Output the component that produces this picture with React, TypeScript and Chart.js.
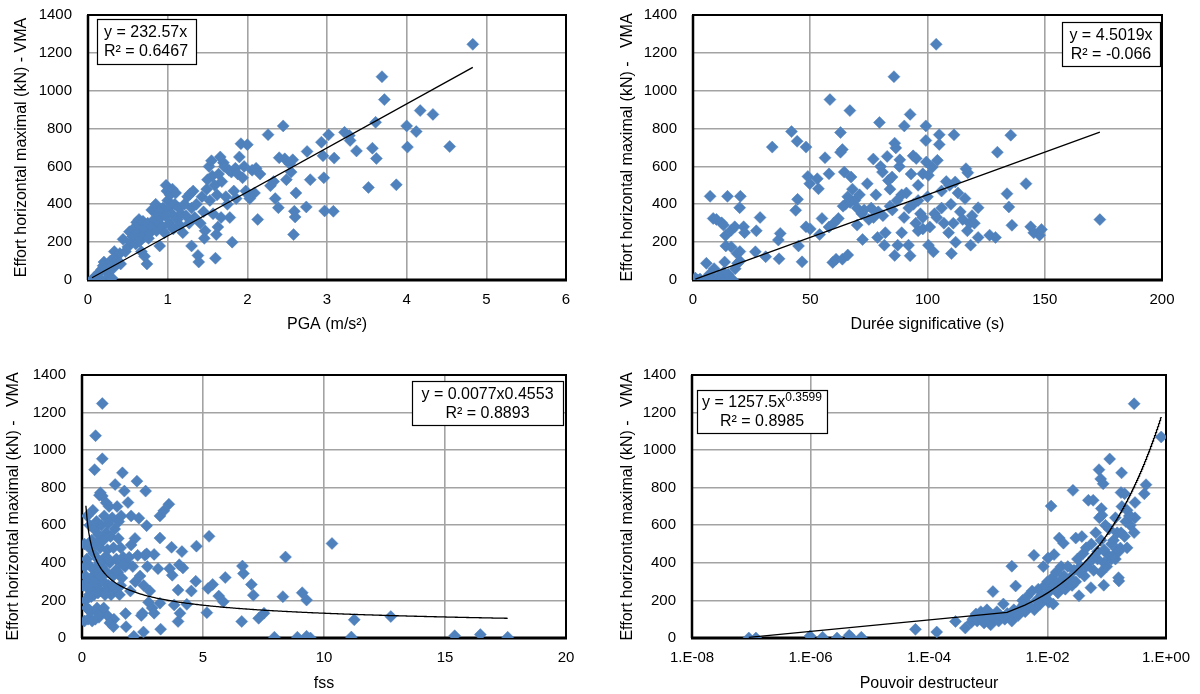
import React, { useEffect, useRef } from 'react';
import { Chart, registerables } from 'chart.js';

Chart.register(...registerables);

const FONT = "'Liberation Sans', Arial, Helvetica, sans-serif";
const BLUE = '#4F81BD';
const GRID = '#a3a3a3';

const Y_TICKS = [0, 200, 400, 600, 800, 1000, 1200, 1400];
const PGA_TICKS = [0, 1, 2, 3, 4, 5, 6];
const DUREE_TICKS = [0, 50, 100, 150, 200];
const FSS_TICKS = [0, 5, 10, 15, 20];
const PD_TICKS = [1e-8, 1e-6, 1e-4, 1e-2, 1];
const PD_TICK_LABELS = ['1.E-08', '1.E-06', '1.E-04', '1.E-02', '1.E+00'];

const Y_TITLE_A = 'Effort horizontal maximal (kN) - VMA';
const Y_TITLE_B = 'Effort horizontal maximal (kN) -   VMA';

type Pt = [number, number];

// PGA (m/s²) vs effort (kN)
const pgaPoints: Pt[] = [
  [0.05, 0], [0.07, 5], [0.08, 15], [0.1, 0], [0.11, 25], [0.13, 10], [0.14, 40], [0.16, 0], [0.17, 55], [0.19, 75],
  [0.2, 95], [0.22, 65], [0.24, 40], [0.26, 20], [0.28, 100], [0.3, 10], [0.31, 60], [0.33, 150], [0.35, 125], [0.37, 105],
  [0.4, 140], [0.41, 85], [0.38, 90], [0.44, 215],
  [0.47, 150], [0.5, 175], [0.52, 255], [0.54, 200], [0.56, 230], [0.58, 275], [0.6, 190], [0.61, 305], [0.62, 250], [0.64, 320],
  [0.65, 205], [0.66, 280], [0.67, 150], [0.69, 310], [0.7, 240], [0.71, 125], [0.72, 270], [0.74, 85], [0.75, 300], [0.76, 220],
  [0.78, 250], [0.8, 370], [0.81, 290], [0.83, 320], [0.85, 400], [0.86, 260], [0.87, 350], [0.89, 300], [0.9, 180], [0.91, 330],
  [0.93, 280], [0.94, 380], [0.96, 250], [0.97, 340], [0.98, 500], [0.99, 470], [1.0, 420],
  [1.01, 380], [1.02, 300], [1.03, 450], [1.05, 350], [1.06, 480], [1.07, 270], [1.09, 400], [1.1, 460], [1.12, 320], [1.14, 380],
  [1.15, 290], [1.17, 350], [1.19, 250], [1.21, 400], [1.23, 340], [1.25, 440], [1.27, 300], [1.28, 455], [1.3, 380], [1.3, 180],
  [1.32, 470], [1.34, 330], [1.36, 400], [1.38, 130], [1.39, 95], [1.41, 300], [1.43, 440], [1.45, 360], [1.46, 220], [1.47, 260],
  [1.49, 480], [1.5, 530], [1.52, 600], [1.53, 420], [1.55, 630], [1.56, 550], [1.57, 350], [1.59, 500], [1.6, 115], [1.61, 240],
  [1.62, 450], [1.63, 280], [1.64, 560], [1.66, 650], [1.67, 330], [1.68, 520], [1.7, 620], [1.71, 600], [1.73, 440], [1.75, 400],
  [1.77, 580], [1.78, 330], [1.8, 570], [1.81, 200], [1.83, 470], [1.85, 590], [1.86, 430], [1.88, 560], [1.9, 650], [1.92, 720],
  [1.94, 540], [1.96, 600], [1.98, 470], [2.0, 715], [2.01, 450], [2.03, 430], [2.06, 580], [2.09, 460], [2.11, 590], [2.13, 320],
  [2.16, 560],
  [2.26, 768], [2.29, 498], [2.33, 520], [2.35, 430], [2.39, 382], [2.4, 646], [2.45, 814], [2.47, 640], [2.49, 530], [2.53, 614],
  [2.55, 570], [2.57, 635], [2.59, 363], [2.6, 333], [2.58, 240], [2.61, 460], [2.74, 386], [2.75, 679], [2.79, 530], [2.93, 728],
  [2.95, 656], [2.96, 540], [2.97, 365], [3.02, 767], [3.08, 363], [3.09, 644], [3.22, 780], [3.28, 763], [3.29, 737], [3.37, 682],
  [3.52, 489], [3.57, 696], [3.61, 833], [3.62, 642], [3.69, 1074], [3.72, 953], [3.87, 503], [4.0, 814], [4.01, 702], [4.12, 784],
  [4.17, 895], [4.33, 875], [4.54, 705], [4.83, 1245],
];

// Durée significative (s) vs effort (kN)
const dureePoints: Pt[] = [
  [1, 10], [2, 0], [3, 5], [5, 0], [5.7, 88], [7, 30], [8, 0], [9, 60], [10, 0], [11, 20], [12, 5], [13, 40], [13.5, 95],
  [14, 0], [15, 30], [16, 10], [17, 0], [18, 60], [19, 88], [20, 100],
  [7.3, 442], [14.7, 442], [20.2, 442], [8.6, 325], [10, 320], [12.2, 302], [13, 290], [13.9, 235], [14, 180], [16.3, 263],
  [17.8, 281], [16.3, 175], [18.8, 140], [19.9, 382], [20, 150], [21.6, 281], [22, 250], [26.6, 149], [27, 260], [28.6, 330],
  [31, 123], [33.8, 702], [36.4, 211], [36.7, 112], [37.2, 246], [42, 784], [43.8, 368], [44.4, 733], [44.6, 426], [45, 180],
  [46.5, 96], [48.2, 702], [48.2, 281], [49, 547], [49.8, 509], [50, 270], [53, 535], [53.5, 482], [54, 240], [55, 325],
  [56.3, 646], [58.4, 953], [58, 561], [58, 280], [59.6, 93], [61, 110], [62, 325], [62.9, 779], [62.9, 675], [63.7, 689],
  [63.7, 110], [64.5, 570], [65, 400], [66, 132], [66, 440], [66.9, 895], [67.4, 544], [68, 480], [69, 420], [70, 380],
  [70, 290], [71, 450], [72.3, 214], [72, 350], [74.3, 509], [75, 320], [76, 380], [76.9, 639], [78, 450], [78.7, 225],
  [79.5, 832], [80, 600], [80.8, 570], [81, 340], [81.6, 184], [82, 250], [82.8, 653], [83.3, 526], [84, 480], [84.9, 544],
  [85, 370], [85.7, 1074], [86, 723], [86.5, 698], [86, 130], [87.3, 184], [88, 600], [88.2, 635], [89, 450], [89, 250],
  [90, 330], [90.1, 814], [91, 460], [91.9, 184], [92.6, 875], [92.6, 128], [93, 560], [93.9, 656], [94, 400], [95, 300],
  [95.2, 642], [96, 260], [96, 500], [97, 350], [98, 561], [98, 270], [99.3, 814], [99.3, 737], [99.5, 623], [100, 440],
  [100.4, 553], [100.4, 184], [101, 280], [102, 596], [102.5, 149], [103, 350], [103.7, 1245], [104.2, 632], [105, 768], [105, 716],
  [106, 470], [107, 300], [108, 520], [109, 250], [109.4, 500], [110, 400], [110.2, 140], [111, 300], [111.3, 767], [111.8, 518],
  [112, 200], [113, 460], [114, 360], [115, 320], [116, 430], [116.4, 588], [117.2, 567], [117, 260], [118, 300], [118.4, 184],
  [119, 340], [120, 300], [121.6, 382], [121.6, 225], [126.5, 237], [129, 225], [129.8, 675], [133.9, 456], [134.7, 386], [135.5, 765],
  [136, 289], [142, 509], [144, 281], [145.3, 249], [147.8, 237], [148.6, 267], [173.5, 319],
  [60, 300], [64, 390], [67, 410], [73, 370], [77, 330], [79, 360], [84, 390], [87, 420], [92, 380], [96, 420], [98, 330], [104, 330], [106, 380],
];

// fss vs effort (kN)
const fssPoints: Pt[] = [
  [0.05, 280], [0.1, 500], [0.1, 90], [0.15, 330], [0.15, 200], [0.2, 420], [0.2, 160], [0.22, 650], [0.25, 300], [0.25, 100],
  [0.3, 480], [0.3, 230], [0.32, 600], [0.35, 380], [0.35, 140], [0.4, 520], [0.4, 270], [0.42, 90], [0.45, 680], [0.45, 330],
  [0.48, 450], [0.5, 580], [0.5, 230], [0.52, 896], [0.55, 370], [0.56, 1077], [0.58, 500], [0.6, 280], [0.6, 620], [0.62, 160],
  [0.65, 420], [0.68, 550], [0.7, 320], [0.7, 110], [0.72, 760], [0.75, 480], [0.76, 773], [0.78, 250], [0.8, 600], [0.82, 380],
  [0.84, 1248], [0.84, 954], [0.84, 756], [0.85, 150], [0.88, 520], [0.9, 300], [0.92, 650], [0.95, 430], [0.98, 250], [1.0, 560],
  [1.0, 720], [1.02, 350], [1.05, 120], [1.05, 470], [1.08, 610], [1.1, 280], [1.12, 700], [1.15, 400], [1.18, 540], [1.2, 230],
  [1.22, 90], [1.25, 640], [1.28, 330], [1.3, 480], [1.32, 100], [1.35, 580], [1.37, 817], [1.4, 260], [1.42, 420], [1.45, 700],
  [1.48, 350], [1.5, 530], [1.52, 620], [1.55, 230], [1.58, 400], [1.6, 480], [1.62, 650], [1.65, 320], [1.67, 879], [1.7, 430],
  [1.75, 782], [1.78, 380], [1.8, 130], [1.82, 60], [1.85, 400], [1.9, 721], [1.95, 430], [2.0, 250], [2.03, 650], [2.03, 495],
  [2.1, 380], [2.14, 9], [2.19, 530], [2.2, 300], [2.27, 835], [2.3, 440], [2.35, 638], [2.4, 330], [2.45, 120], [2.5, 132],
  [2.54, 32], [2.55, 280], [2.6, 440], [2.63, 782], [2.67, 598], [2.67, 448], [2.7, 380], [2.75, 190], [2.8, 250], [2.9, 160],
  [2.98, 445], [2.98, 132], [3.14, 369], [3.22, 650], [3.22, 532], [3.22, 185], [3.25, 47], [3.38, 677], [3.59, 712], [3.62, 369],
  [3.7, 483], [3.73, 334], [3.81, 176], [3.97, 255], [3.97, 88], [4.02, 390], [4.05, 132], [4.13, 460], [4.17, 373], [4.33, 179],
  [4.52, 250], [4.7, 302], [4.73, 489], [5.16, 135], [5.21, 264], [5.25, 541], [5.4, 285], [5.65, 223], [5.84, 193], [5.92, 322],
  [6.6, 88], [6.63, 383], [6.67, 343], [7.0, 285], [7.08, 228], [7.3, 105], [7.52, 132], [7.95, 4], [8.3, 220], [8.41, 431],
  [8.9, 4], [9.1, 241], [9.28, 202], [9.28, 9], [9.44, 0], [10.33, 503], [11.13, 5], [11.25, 97], [12.76, 114], [15.4, 12],
  [16.46, 18], [17.59, 4],
  [0.12, 380], [0.28, 260], [0.38, 220], [0.5, 300], [0.62, 350], [0.66, 240], [0.74, 400], [0.8, 330], [0.95, 230], [1.1, 420],
  [1.25, 280], [1.4, 360], [1.6, 280], [1.7, 390], [0.3, 150], [0.55, 100], [0.7, 130], [0.9, 160], [1.15, 80], [1.3, 60],
];

// Pouvoir destructeur vs effort (kN)
const pdPoints: Pt[] = [
  [9.1e-8, 0], [1.2e-7, 0], [9.8e-7, 10], [1.6e-6, 4], [2.8e-6, 0], [4.5e-6, 14], [4.8e-6, 4], [7.2e-6, 4], [5.9e-5, 46], [1.35e-4, 32],
  [2.8e-4, 88], [4.1e-4, 53], [5.2e-4, 84], [6.2e-4, 128],
  [5.5e-4, 100], [6e-4, 110], [6.5e-4, 90], [7e-4, 120], [7.5e-4, 140], [8e-4, 100], [8.5e-4, 80], [9e-4, 130], [9.5e-4, 150], [1e-3, 110],
  [1.05e-3, 90], [1.1e-3, 70], [1.2e-3, 247], [1.2e-3, 120], [1.3e-3, 100], [1.4e-3, 140], [1.5e-3, 90], [1.6e-3, 120], [1.8e-3, 181], [1.9e-3, 100],
  [2.1e-3, 130], [2.3e-3, 110], [2.5e-3, 382], [2.5e-3, 90], [2.9e-3, 277], [2.7e-3, 150], [3e-3, 130], [3.2e-3, 120], [3.5e-3, 160], [3.8e-3, 200],
  [4e-3, 180], [4.2e-3, 140], [4.5e-3, 220], [5e-3, 170], [5.5e-3, 250], [5.9e-3, 440], [6e-3, 150], [6.5e-3, 200], [7e-3, 260], [7.5e-3, 180],
  [8e-3, 230], [8.5e-3, 380], [9e-3, 280], [9.5e-3, 210], [1e-2, 300], [1.02e-2, 426], [1.05e-2, 190], [1.1e-2, 250], [1.15e-2, 702], [1.2e-2, 320],
  [1.25e-2, 181], [1.29e-2, 444], [1.3e-2, 280], [1.4e-2, 350], [1.5e-2, 240], [1.58e-2, 532], [1.6e-2, 300], [1.7e-2, 380], [1.8e-2, 270], [1.86e-2, 505],
  [1.9e-2, 330], [2e-2, 260], [2.1e-2, 300], [2.2e-2, 380], [2.4e-2, 320], [2.6e-2, 280], [2.69e-2, 786], [2.8e-2, 360], [3e-2, 532], [3e-2, 300],
  [3.2e-2, 420], [3.4e-2, 225], [3.6e-2, 380], [3.8e-2, 540], [4e-2, 450], [4.2e-2, 330], [4.5e-2, 480], [4.9e-2, 733], [5e-2, 400], [5.4e-2, 268],
  [5.5e-2, 500], [5.9e-2, 733], [6e-2, 430], [6.5e-2, 560], [7e-2, 460], [7.4e-2, 896], [7.5e-2, 640], [7.9e-2, 847], [8e-2, 520], [8.1e-2, 689],
  [8.7e-2, 821], [8.9e-2, 281], [8.3e-2, 654], [9e-2, 400], [9.5e-2, 600], [0.1, 450], [0.11, 580], [0.112, 953], [0.12, 420], [0.13, 520],
  [0.14, 640], [0.15, 470], [0.16, 304], [0.158, 321], [0.17, 479], [0.174, 774], [0.175, 560], [0.178, 879], [0.18, 700], [0.2, 768],
  [0.21, 620], [0.22, 680], [0.24, 650], [0.25, 600], [0.29, 1247], [0.29, 561], [0.3, 721], [0.3, 640], [0.43, 768], [0.46, 816],
  [0.83, 1070],
  [3.5e-2, 350], [4.5e-2, 380], [6e-2, 360], [7e-2, 420], [8e-2, 350], [0.09, 470], [0.1, 380], [0.12, 500], [0.13, 440], [0.14, 420],
  [0.15, 560], [0.16, 460], [0.2, 540], [0.22, 480], [0.25, 650],
];

// Trendline coefficients (from the displayed equations / fitted curve) and x-spans
const PGA_SLOPE = 232.57;
const DUREE_SLOPE = 4.5019;
const FSS_COEF = 335;
const FSS_EXP = -0.405;
const FSS_TREND_SPAN: [number, number] = [0.16, 17.59];
const PD_COEF = 1257.5;
const PD_EXP = 0.3599;

function xRange(pts: Pt[]): [number, number] {
  let lo = Infinity, hi = -Infinity;
  pts.forEach(([x]) => { if (x < lo) lo = x; if (x > hi) hi = x; });
  return [lo, hi];
}

function linearTrend(pts: Pt[], slope: number) {
  const [a, b] = xRange(pts);
  return [{ x: a, y: slope * a }, { x: b, y: slope * b }];
}

function powerTrend(span: [number, number], coef: number, exp: number, n: number) {
  const [a, b] = span;
  const out: { x: number; y: number }[] = [];
  for (let i = 0; i <= n; i++) {
    const x = a + ((b - a) * i) / n;
    out.push({ x, y: coef * Math.pow(x, exp) });
  }
  return out;
}

type Seg = { t: string; sup?: boolean };

interface Panel {
  left: number;
  top: number;
  w: number;
  h: number;
  plot: { l: number; r: number; t: number; b: number };
  yTitle: string;
  yTitleX: number;
  xTitle: string;
  xTitleY: number;
  xType: 'linear' | 'logarithmic';
  xTicks: number[];
  xLabels?: string[];
  points: Pt[];
  trend: { x: number; y: number }[];
  box: { x: number; y: number; w: number; h: number; align: 'left' | 'center'; lines: Seg[][] };
}

const panels: Panel[] = [
  {
    left: 0, top: 0, w: 600, h: 347,
    plot: { l: 88, r: 566, t: 15, b: 280 },
    yTitle: Y_TITLE_A, yTitleX: 22, xTitle: 'PGA (m/s²)', xTitleY: 325,
    xType: 'linear', xTicks: PGA_TICKS,
    points: pgaPoints, trend: linearTrend(pgaPoints, PGA_SLOPE),
    box: { x: 97, y: 19, w: 99, h: 45, align: 'left', lines: [[{ t: 'y = 232.57x' }], [{ t: 'R² = 0.6467' }]] },
  },
  {
    left: 600, top: 0, w: 600, h: 347,
    plot: { l: 93, r: 562, t: 15, b: 280 },
    yTitle: Y_TITLE_B, yTitleX: 28, xTitle: 'Durée significative (s)', xTitleY: 325,
    xType: 'linear', xTicks: DUREE_TICKS,
    points: dureePoints, trend: linearTrend(dureePoints, DUREE_SLOPE),
    box: { x: 462, y: 22, w: 98, h: 44, align: 'center', lines: [[{ t: 'y = 4.5019x' }], [{ t: 'R² = -0.066' }]] },
  },
  {
    left: 0, top: 347, w: 600, h: 347,
    plot: { l: 82, r: 566, t: 28, b: 291 },
    yTitle: Y_TITLE_B, yTitleX: 14, xTitle: 'fss', xTitleY: 337,
    xType: 'linear', xTicks: FSS_TICKS,
    points: fssPoints, trend: powerTrend(FSS_TREND_SPAN, FSS_COEF, FSS_EXP, 300),
    box: { x: 412, y: 34, w: 151, h: 44, align: 'center', lines: [[{ t: 'y = 0.0077x0.4553' }], [{ t: 'R² = 0.8893' }]] },
  },
  {
    left: 600, top: 347, w: 600, h: 347,
    plot: { l: 92, r: 566, t: 28, b: 291 },
    yTitle: Y_TITLE_B, yTitleX: 28, xTitle: 'Pouvoir destructeur', xTitleY: 337,
    xType: 'logarithmic', xTicks: PD_TICKS, xLabels: PD_TICK_LABELS,
    points: pdPoints, trend: powerTrend(xRange(pdPoints), PD_COEF, PD_EXP, 400),
    box: { x: 97, y: 43, w: 130, h: 43, align: 'center', lines: [[{ t: 'y = 1257.5x' }, { t: '0.3599', sup: true }], [{ t: 'R² = 0.8985' }]] },
  },
];

const TICK_FONT = { family: FONT, size: 15 };
const TITLE_FONT = { family: FONT, size: 16 };
const BOX_FONT_SIZE = 16;

function makeConfig(p: Panel): any {
  const framePlugin = {
    id: 'frame',
    beforeDatasetsDraw(chart: any) {
      const { ctx, chartArea } = chart;
      const { left, right, top, bottom } = chartArea;
      ctx.save();
      ctx.strokeStyle = '#000';
      ctx.lineWidth = 2;
      ctx.strokeRect(left, top, right - left, bottom - top);
      ctx.lineWidth = 2.5;
      ctx.beginPath();
      ctx.moveTo(left, top);
      ctx.lineTo(left, bottom);
      ctx.stroke();
      ctx.lineWidth = 3;
      ctx.beginPath();
      ctx.moveTo(left - 1, bottom);
      ctx.lineTo(right + 1, bottom);
      ctx.stroke();
      ctx.restore();
    },
  };
  const boxPlugin = {
    id: 'eqbox',
    afterDraw(chart: any) {
      const { ctx } = chart;
      const b = p.box;
      ctx.save();
      ctx.fillStyle = '#fff';
      ctx.fillRect(b.x, b.y, b.w, b.h);
      ctx.strokeStyle = '#000';
      ctx.lineWidth = 1.2;
      ctx.strokeRect(b.x + 0.5, b.y + 0.5, b.w, b.h);
      ctx.fillStyle = '#000';
      ctx.textBaseline = 'middle';
      ctx.textAlign = 'left';
      const lineH = 19;
      const firstY = b.y + b.h / 2 - lineH / 2 + 1;
      b.lines.forEach((segs, i) => {
        const widths = segs.map((s) => {
          ctx.font = `${s.sup ? 12 : BOX_FONT_SIZE}px ${FONT}`;
          return ctx.measureText(s.t).width;
        });
        const total = widths.reduce((a, c) => a + c, 0);
        let x = b.align === 'left' ? b.x + 7 : b.x + (b.w - total) / 2;
        const y = firstY + i * lineH;
        segs.forEach((s, j) => {
          ctx.font = `${s.sup ? 12 : BOX_FONT_SIZE}px ${FONT}`;
          ctx.fillText(s.t, x, s.sup ? y - 5 : y);
          x += widths[j];
        });
      });
      ctx.restore();
    },
  };

  const xTickCb = (value: any, index: number) => (p.xLabels ? p.xLabels[index] : String(value));

  return {
    type: 'scatter',
    data: {
      datasets: [
        {
          type: 'line',
          data: p.trend,
          borderColor: '#000',
          borderWidth: 1.3,
          pointRadius: 0,
          tension: 0,
          fill: false,
          order: 0,
        },
        {
          data: p.points.map(([x, y]) => ({ x, y })),
          pointStyle: 'rectRot',
          pointRadius: 6,
          pointBorderWidth: 0.5,
          backgroundColor: BLUE,
          borderColor: BLUE,
          order: 1,
        },
      ],
    },
    options: {
      animation: false,
      responsive: false,
      maintainAspectRatio: false,
      events: [],
      layout: { padding: { left: 0, top: p.plot.t, right: p.w - p.plot.r, bottom: 0 } },
      plugins: { legend: { display: false }, tooltip: { enabled: false } },
      scales: {
        x: {
          type: p.xType,
          min: p.xTicks[0],
          max: p.xTicks[p.xTicks.length - 1],
          afterBuildTicks: (s: any) => { s.ticks = p.xTicks.map((v) => ({ value: v })); },
          afterFit: (s: any) => {
            s.height = p.h - p.plot.b;
            s.paddingLeft = 0;
            s.paddingRight = 0;
          },
          ticks: { font: TICK_FONT, color: '#000', padding: 11, maxRotation: 0, autoSkip: false, callback: xTickCb },
          grid: { color: GRID, lineWidth: 1.6, drawTicks: false },
          border: { display: false },
          title: {
            display: true, text: p.xTitle, color: '#000', font: TITLE_FONT,
            padding: { top: 0, bottom: p.h - p.xTitleY - 9.6 },
          },
        },
        y: {
          type: 'linear',
          min: 0,
          max: 1400,
          afterBuildTicks: (s: any) => { s.ticks = Y_TICKS.map((v) => ({ value: v })); },
          afterFit: (s: any) => {
            s.width = p.plot.l;
            s.paddingTop = 0;
            s.paddingBottom = 0;
          },
          ticks: { font: TICK_FONT, color: '#000', padding: 16, callback: (v: any) => String(v) },
          grid: { color: GRID, lineWidth: 1.6, drawTicks: false },
          border: { display: false },
          title: {
            display: true, text: p.yTitle, color: '#000', font: TITLE_FONT,
            padding: { top: p.yTitleX - 9.6, bottom: 0 },
          },
        },
      },
    },
    plugins: [framePlugin, boxPlugin],
  };
}

export default function App() {
  const refs = useRef<(HTMLCanvasElement | null)[]>([]);

  useEffect(() => {
    const charts = panels.map((p, i) => new Chart(refs.current[i] as HTMLCanvasElement, makeConfig(p)));
    return () => charts.forEach((c) => c.destroy());
  }, []);

  return (
    <div style={{ position: 'absolute', left: 0, top: 0, width: 1200, height: 694, background: '#fff' }}>
      {panels.map((p, i) => (
        <div key={i} style={{ position: 'absolute', left: p.left, top: p.top, width: p.w, height: p.h }}>
          <canvas
            ref={(el) => { refs.current[i] = el; }}
            width={p.w}
            height={p.h}
            style={{ width: p.w, height: p.h, display: 'block' }}
          />
        </div>
      ))}
    </div>
  );
}
